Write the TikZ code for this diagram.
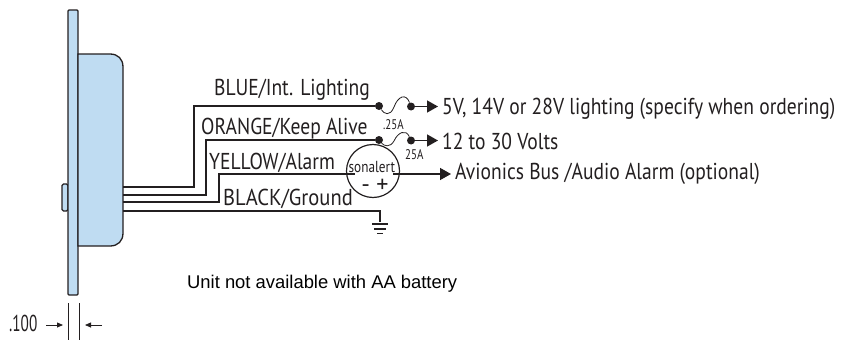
\documentclass[tikz,border=0pt]{standalone}
\usepackage{fontspec}
\setmainfont{PT Sans}
\newfontfamily\arialf{Liberation Sans}
\usetikzlibrary{arrows.meta}
\definecolor{panelblue}{HTML}{BFDCF2}
\definecolor{inkline}{HTML}{231F20}
\tikzset{
  wire/.style={draw=inkline,line width=1.4pt},
  thin wire/.style={draw=inkline,line width=0.8pt},
  body/.style={draw=inkline,line width=1.3pt,fill=panelblue},
  lbl/.style={inner sep=0pt,anchor=base west,text=inkline,font=\fontsize{23}{25}\selectfont,xscale=0.85},
  small/.style={inner sep=0pt,anchor=base west,text=inkline,font=\fontsize{14}{16}\selectfont,xscale=0.78},
  jdot/.style={circle,fill=inkline,inner sep=0pt,minimum size=8pt},
  arr/.style={draw=inkline,line width=1.4pt,-{Triangle[length=11pt,width=12pt]}},
  dim/.style={draw=inkline,line width=0.8pt,-{Triangle[length=6pt,width=5pt]}},
}
\begin{document}
\begin{tikzpicture}[x=1pt,y=-1pt]
\useasboundingbox (0,0) rectangle (846,340);
% unit
\draw[body,rounded corners=1.5pt] (62,184) rectangle (68,211);
\draw[body,rounded corners=1pt] (68,10) rectangle (78,295);
\draw[body,rounded corners=0pt] (78,54) -- (110,54) .. controls (118,54) and (123,59) .. (123,67) -- (123,233) .. controls (123,241) and (118,246) .. (110,246) -- (78,246) -- cycle;
% nodes
\coordinate (u1) at (123,187);
\coordinate (u2) at (123,195);
\coordinate (u3) at (123,202);
\coordinate (u4) at (123,211);
\node[jdot] (j1) at (379,106) {};
\node[jdot] (f1) at (411,106.5) {};
\node[jdot] (j2) at (379,140) {};
\node[jdot] (f2) at (411,140.5) {};
\node[circle,draw=inkline,line width=1.2pt,minimum size=53pt,inner sep=0pt] (son) at (373,171) {};
\coordinate (gnd) at (380,222);
\coordinate (a1) at (438,106.5);
\coordinate (a2) at (438,140.5);
\coordinate (a3) at (451,174);
\coordinate (y1) at (355,174);
\coordinate (y2) at (393,174);
% wires
\draw[wire] (u1) -| (194,106) -- (j1);
\draw[wire] (u2) -| (206,140) -- (j2);
\draw[wire] (u3) -| (219,174) -- (y1);
\draw[wire] (u4) -| (gnd);
\draw[arr] (y2) -- (a3);
\draw[thin wire] (j1) .. controls (384,114) and (390,117) .. (394,107) .. controls (398,96) and (406,93) .. (f1);
\draw[thin wire] (j2) .. controls (384,146) and (390,148) .. (394,141) .. controls (398,132) and (406,129) .. (f2);
\draw[arr] (f1) -- (a1);
\draw[arr] (f2) -- (a2);
% ground
\draw[draw=inkline,line width=1.6pt] (372,224) -- (388,224);
\draw[draw=inkline,line width=1.2pt] (374,229) -- (386,229);
\draw[draw=inkline,line width=1pt] (377,233) -- (383,233);
% labels
\node[lbl] (t1) at (214,95) {BLUE/Int. Lighting};
\node[lbl] (t2) at (201,134) {ORANGE/Keep Alive};
\node[lbl] (t3) at (209,169) {YELLOW/Alarm};
\node[lbl,xscale=1.05] (t4) at (223,205) {BLACK/Ground};
\node[small,font=\fontsize{16}{18}\selectfont,xscale=1.06] (s) at (348.5,172) {sonalert};
\node[inner sep=0pt,font=\fontsize{24}{26}\selectfont,text=inkline] (pm) at (375,186) {- +};
\node[small] (f1t) at (383,129) {.25A};
\node[small] (f2t) at (405,159) {25A};
\node[lbl] (o1) at (442,114) {5V, 14V or 28V lighting (specify when ordering)};
\node[lbl] (o2) at (442,149) {12 to 30 Volts};
\node[lbl] (o3) at (455,179) {Avionics Bus /Audio Alarm (optional)};
\node[inner sep=0pt,anchor=base west,font=\arialf\fontsize{18.4}{20}\selectfont,text=black] (note) at (187,288) {Unit not available with AA battery};
% dimension
\coordinate (d1) at (68,303);
\coordinate (d1b) at (68,340);
\coordinate (d2) at (79,303);
\coordinate (d2b) at (79,340);
\draw[draw=inkline,line width=0.8pt] (d1) -- (d1b);
\draw[draw=inkline,line width=0.8pt] (d2) -- (d2b);
\coordinate (da) at (46,325);
\coordinate (db) at (63,325);
\coordinate (dc) at (102,325);
\coordinate (dd) at (85,325);
\draw[dim] (da) -- (db);
\draw[dim] (dc) -- (dd);
\node[lbl,xscale=0.78] (dimt) at (9,331) {.100};
\end{tikzpicture}
\end{document}
